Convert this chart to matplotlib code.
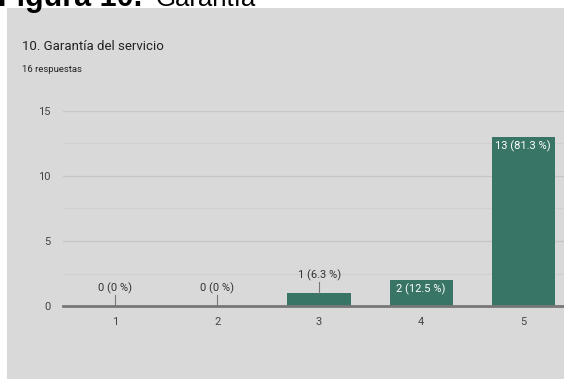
import matplotlib
matplotlib.use("Agg")
import matplotlib.pyplot as plt
from matplotlib.patches import Rectangle

plt.rcParams['font.family'] = ['Roboto', 'DejaVu Sans']

# data
categories = [1, 2, 3, 4, 5]
counts = [0, 0, 1, 2, 13]
pct_labels = ["0 (0 %)", "0 (0 %)", "1 (6.3 %)", "2 (12.5 %)", "13 (81.3 %)"]
yticks = [0, 5, 10, 15]

W, H = 564, 379
fig = plt.figure(figsize=(W / 100, H / 100), dpi=100)
fig.patch.set_facecolor("white")

# grey card behind the chart
fig.patches.append(Rectangle((7 / W, 0), 1 - 7 / W, 1 - 8 / H, transform=fig.transFigure,
                             facecolor="#d9d9d9", edgecolor="none", zorder=-5))

# figure caption, cut off at the top
fig.text(-2 / W, 1 - 6 / H, "Figura 10.", fontsize=22, fontweight="bold",
         family=["Liberation Sans", "DejaVu Sans"], va="baseline", ha="left")
fig.text(156 / W, 1 - 6 / H, "Garantía", fontsize=18.5,
         family=["Liberation Sans", "DejaVu Sans"], va="baseline", ha="left")

fig.text(22 / W, 1 - 47 / H, "10. Garantía del servicio", fontsize=9.5, color="#222222", va="center")
fig.text(22 / W, 1 - 70 / H, "16 respuestas", fontsize=6.8, color="#222222", va="center")

ax = fig.add_axes([63 / W, 1 - 306 / H, (W - 63) / W, 195 / H])
ax.set_facecolor("none")
ax.set_zorder(1)
ax.set_xlim(0.49, 5.40)
ax.set_ylim(0, 15)

ax.set_yticks(yticks)
ax.set_yticks([2.5, 7.5, 12.5], minor=True)
ax.grid(axis="y", which="major", color="#c6c6c6", linewidth=1)
ax.grid(axis="y", which="minor", color="#d0d0d0", linewidth=0.8)
ax.set_axisbelow(True)
ax.set_xticks(categories)
ax.tick_params(axis="both", which="both", length=0, labelsize=8, labelcolor="#444444")
ax.tick_params(axis="y", pad=9)
ax.tick_params(axis="x", pad=8)
for s in ["top", "right", "left"]:
    ax.spines[s].set_visible(False)
ax.spines["bottom"].set_color("#777777")
ax.spines["bottom"].set_linewidth(2)

ax.bar(categories, counts, width=0.62, color="#387566", zorder=2)

for x, c, lab in zip(categories, counts, pct_labels):
    if c >= 2:
        ax.text(x, c - 0.25, lab, ha="center", va="top", color="white", fontsize=8, zorder=3)
    else:
        ax.plot([x, x], [c, c + 0.85], color="#777777", linewidth=0.8, zorder=3)
        ax.text(x, c + 0.95, lab, ha="center", va="bottom", color="#333333", fontsize=8, zorder=3)

fig.savefig("out.png", dpi=100)
